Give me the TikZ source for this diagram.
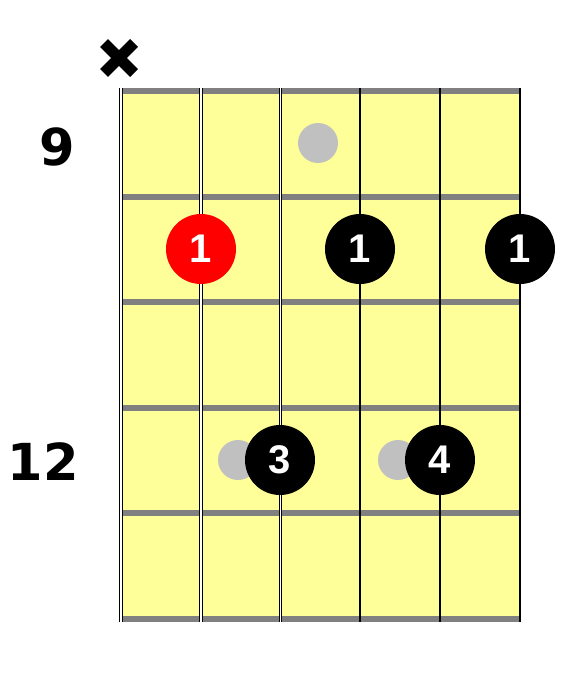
\documentclass[tikz,border=0pt]{standalone}
\usepackage{fontspec}
\newfontfamily\labfont{DejaVu Sans}
\newfontfamily\dotfont{Liberation Sans}
\definecolor{board}{HTML}{FFFF99}
\definecolor{fretgray}{HTML}{808080}
\definecolor{ghost}{HTML}{C0C0C0}
\definecolor{rootred}{HTML}{FF0000}
\newcommand{\fingertext}[1]{\raisebox{-2pt}{#1}}
\begin{document}
\begin{tikzpicture}[x=1pt,y=-1pt,
  finger/.style={circle,inner sep=0pt,minimum size=70pt,text=white,
    font=\dotfont\bfseries\fontsize{40}{40}\selectfont},
  ghostdot/.style={circle,fill=ghost,inner sep=0pt,minimum size=40pt},
  fretlabel/.style={font=\labfont\bfseries\fontsize{51}{51}\selectfont,text=black},
  fretline/.style={draw=fretgray,line width=6pt},
]
\useasboundingbox (0,0) rectangle (581,682);
% board
\fill[board] (121,91) rectangle (520,619);
% frets
\foreach \y in {91,196.6,302.2,407.8,513.4,619}
  \draw[fretline] (121,\y) -- (520,\y);
% strings (thick ones: black outline, white core)
\draw[black,line width=4.2pt] (121,88) -- (121,622);
\draw[white,line width=2pt] (121,88) -- (121,622);
\draw[black,line width=3.4pt] (201,88) -- (201,622);
\draw[white,line width=1.4pt] (201,88) -- (201,622);
\draw[black,line width=2.6pt] (280.5,88) -- (280.5,622);
\draw[white,line width=0.8pt] (280.5,88) -- (280.5,622);
\draw[black,line width=1.1pt] (360,88) -- (360,622);
\draw[black,line width=1.1pt] (440,88) -- (440,622);
\draw[black,line width=1.1pt] (520,88) -- (520,622);
% muted string mark
\coordinate (xa) at (104,43);
\coordinate (xb) at (134,73);
\coordinate (xc) at (134,43);
\coordinate (xd) at (104,73);
\draw[black,line width=11pt] (xa) -- (xb);
\draw[black,line width=11pt] (xc) -- (xd);
% fret numbers
\node[fretlabel] (f9) at (57,147) {9};
\node[fretlabel] (f12) at (43,462) {12};
% ghost dots
\node[ghostdot] (g1) at (318,143) {};
\node[ghostdot] (g2) at (238,460) {};
\node[ghostdot] (g3) at (398,460) {};
% fingers
\node[finger,fill=rootred] (r1) at (201,249) {\fingertext{1}};
\node[finger,fill=black] (b1) at (360,249) {\fingertext{1}};
\node[finger,fill=black] (b2) at (520,249) {\fingertext{1}};
\node[finger,fill=black] (b3) at (280,460) {\fingertext{3}};
\node[finger,fill=black] (b4) at (440,460) {\fingertext{4}};
\end{tikzpicture}
\end{document}
